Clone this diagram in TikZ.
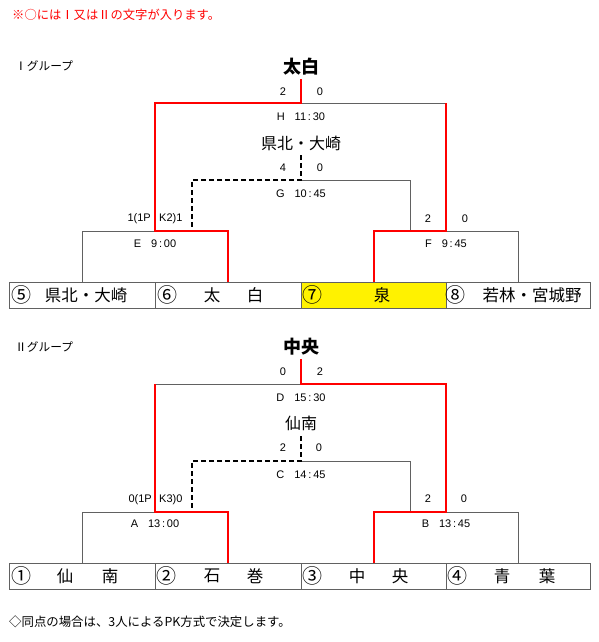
\documentclass[tikz,border=0pt]{standalone}
\usepackage{fontspec}
\setmainfont{Noto Sans CJK JP}
\newfontfamily\lat{Liberation Sans}
\begin{document}
\begin{tikzpicture}[x=1pt,y=-1pt,
  gline/.style={draw=black!62, line width=1pt},
  rline/.style={draw=red, line width=2pt},
  dline/.style={draw=black, line width=1.6pt, dash pattern=on 5pt off 3pt},
  tbox/.style={draw=black!62, line width=1pt, minimum height=26pt, inner sep=0pt},
  ttext/.style={font=\fontsize{16.5}{16.5}\selectfont, inner sep=0pt},
  circ/.style={font=\fontsize{20}{20}\selectfont\addfontfeatures{FakeBold=0}, inner sep=0pt},
  ttl/.style={font=\fontsize{18}{18}\selectfont\bfseries, inner sep=0pt},
  sub/.style={font=\fontsize{16}{16}\selectfont, inner sep=0pt},
  score/.style={font=\lat\fontsize{11}{11}\selectfont, inner sep=0pt},
  note/.style={font=\fontsize{11.7}{11.7}\selectfont, inner sep=0pt, anchor=west}]
\useasboundingbox (0,0) rectangle (598,642);

% notes
\node[note, text=red, font=\fontsize{12.3}{12.3}\selectfont] (n1) at (12,15) {※○にはⅠ又はⅡの文字が入ります。};
\node[note] (g1) at (15,66) {Ⅰグループ};
\node[note] (g2) at (15,347) {Ⅱグループ};
\node[note, font=\fontsize{12.4}{12.4}\selectfont] (n2) at (9,622) {◇同点の場合は、3人によるPK方式で決定します。};

% ===== Group I =====
\node[tbox, minimum width=146pt] (t5) at (82,295) {};
\node[tbox, minimum width=146pt] (t6) at (228,295) {};
\node[tbox, minimum width=145pt, fill=yellow] (t7) at (373.5,295) {};
\node[tbox, minimum width=144pt] (t8) at (518,295) {};
\node[circ] (c5) at (22,295) {⑤};
\node[ttext] (l5) at (86,295) {県北・大崎};
\node[circ] (c6) at (167,295) {⑥};
\node[ttext] (l6a) at (212,295) {太};
\node[ttext] (l6b) at (255,295) {白};
\node[circ] (c7) at (312,295) {⑦};
\node[ttext] (l7) at (382,295) {泉};
\node[circ] (c8) at (455,295) {⑧};
\node[ttext] (l8) at (532,295) {若林・宮城野};

\coordinate (Htop) at (301,79);
\coordinate (H) at (301,103);
\coordinate (Hr) at (446,103);
\coordinate (Gtop) at (301,155);
\coordinate (G) at (301,180);
\coordinate (Gl) at (192,231);
\coordinate (Gr) at (410,231);
\coordinate (E) at (155,231);
\coordinate (F) at (446,231);

\draw[gline] (t5.north) |- (E);
\draw[gline] (F) -| (t8.north);
\draw[gline] (G) -| (Gr);
\draw[gline] (H) -- (Hr);
\draw[dline] (Gtop) -- (G) -| (Gl);
\draw[rline] (Htop) -- (H) -| (E) -| (t6.north);
\draw[rline] (Hr) -- (F) -| (t7.north);

\node[ttl] (w1) at (301,67) {太白};
\node[score] (s1a) at (283,92) {2};
\node[score] (s1b) at (320,92) {0};
\node[score] (mH) at (301,117) {H\hspace{0.9em}11\,:\,30};
\node[sub] (w1b) at (301,143) {県北・大崎};
\node[score] (s1c) at (283,168) {4};
\node[score] (s1d) at (320,168) {0};
\node[score] (mG) at (301,194) {G\hspace{0.9em}10\,:\,45};
\node[score, anchor=east] (s1e) at (151,219) {1(1P};
\node[score, anchor=west] (s1f) at (159,219) {K2)1};
\node[score] (s1g) at (428,219) {2};
\node[score] (s1h) at (465,219) {0};
\node[score] (mE) at (155,244) {E\hspace{0.9em}9\,:\,00};
\node[score] (mF) at (446,244) {F\hspace{0.9em}9\,:\,45};

% ===== Group II =====
\node[tbox, minimum width=146pt] (t1) at (82,576) {};
\node[tbox, minimum width=146pt] (t2) at (228,576) {};
\node[tbox, minimum width=145pt] (t3) at (373.5,576) {};
\node[tbox, minimum width=144pt] (t4) at (518,576) {};
\node[circ] (c1) at (21,576) {①};
\node[ttext] (l1a) at (65,576) {仙};
\node[ttext] (l1b) at (110,576) {南};
\node[circ] (c2) at (166,576) {②};
\node[ttext] (l2a) at (212,576) {石};
\node[ttext] (l2b) at (255,576) {巻};
\node[circ] (c3) at (312,576) {③};
\node[ttext] (l3a) at (357,576) {中};
\node[ttext] (l3b) at (400,576) {央};
\node[circ] (c4) at (457,576) {④};
\node[ttext] (l4a) at (502,576) {青};
\node[ttext] (l4b) at (547,576) {葉};

\coordinate (Dtop) at (301,359);
\coordinate (D) at (301,384);
\coordinate (Dl) at (155,384);
\coordinate (Dr) at (446,384);
\coordinate (Ctop) at (301,436);
\coordinate (C) at (301,461);
\coordinate (Cl) at (192,512);
\coordinate (Cr) at (410,512);
\coordinate (A) at (155,512);
\coordinate (B) at (446,512);

\draw[gline] (t1.north) |- (A);
\draw[gline] (B) -| (t4.north);
\draw[gline] (C) -| (Cr);
\draw[gline] (Dl) -- (D);
\draw[dline] (Ctop) -- (C) -| (Cl);
\draw[rline] (Dl) -- (A) -| (t2.north);
\draw[rline] (Dtop) -- (D) -| (B) -| (t3.north);

\node[ttl] (w2) at (301,347) {中央};
\node[score] (s2a) at (283,372) {0};
\node[score] (s2b) at (320,372) {2};
\node[score] (mD) at (301,398) {D\hspace{0.9em}15\,:\,30};
\node[sub] (w2b) at (301,423) {仙南};
\node[score] (s2c) at (283,448) {2};
\node[score] (s2d) at (319,448) {0};
\node[score] (mC) at (301,475) {C\hspace{0.9em}14\,:\,45};
\node[score, anchor=east] (s2e) at (152,500) {0(1P};
\node[score, anchor=west] (s2f) at (159,500) {K3)0};
\node[score] (s2g) at (428,499) {2};
\node[score] (s2h) at (464,499) {0};
\node[score] (mA) at (155,524) {A\hspace{0.9em}13\,:\,00};
\node[score] (mB) at (446,524) {B\hspace{0.9em}13\,:\,45};
\end{tikzpicture}
\end{document}
